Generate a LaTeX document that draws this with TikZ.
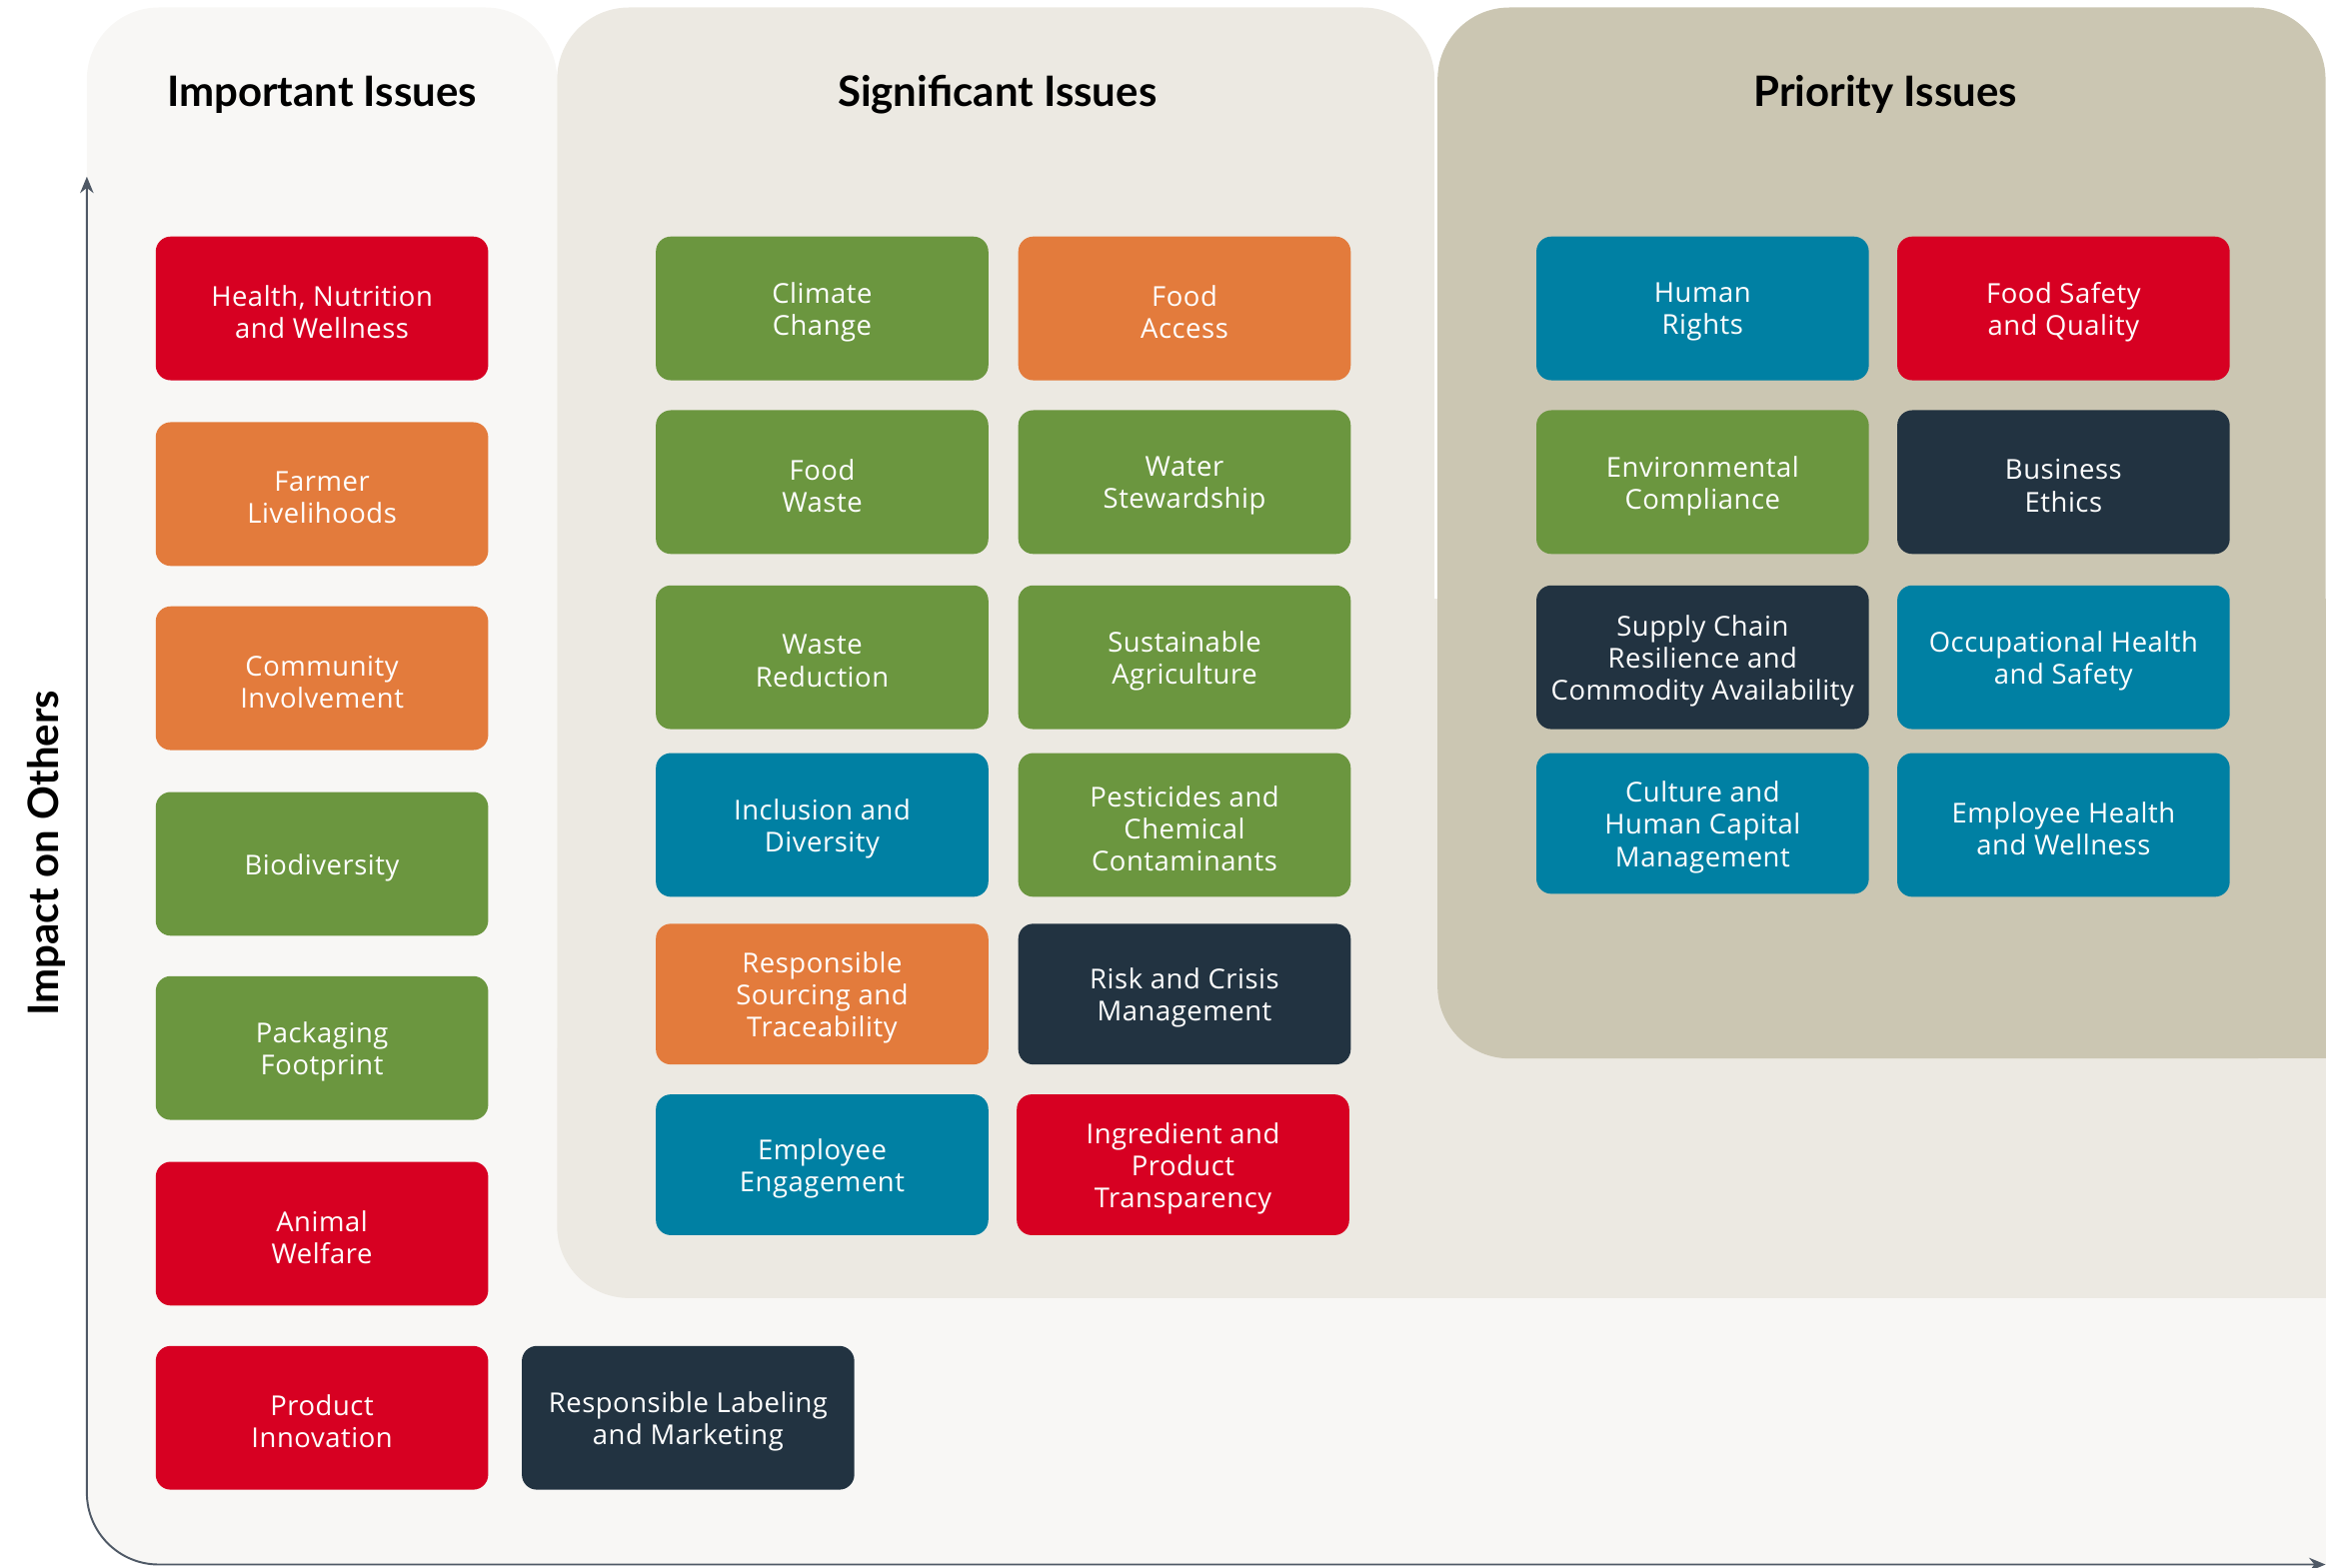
\documentclass[tikz,border=0pt]{standalone}
\usepackage{fontspec}
\setmainfont{Open Sans}[LetterSpace=2.0]
\newfontfamily\titlefont{Lato}
\usetikzlibrary{arrows.meta}
\definecolor{cred}{HTML}{D70022}
\definecolor{corange}{HTML}{E37B3C}
\definecolor{cgreen}{HTML}{6B963F}
\definecolor{cblue}{HTML}{0080A3}
\definecolor{cdark}{HTML}{223341}
\definecolor{plight}{HTML}{F8F7F5}
\definecolor{psig}{HTML}{ECE9E2}
\definecolor{ppri}{HTML}{CBC6B2}
\definecolor{caxis}{HTML}{4F5966}
% #1 name, #2 colour, #3 position, #4 height, #5 text
\newcommand\issuebox[5]{%
  \node[issue, fill=#2, minimum height=#4] (#1) at (#3) {};
  \node[issuetext] (#1-t) at ([yshift=-2.5pt]#1.center) {#5};}
\begin{document}
\begin{tikzpicture}[x=1pt,y=-1pt,
  issue/.style={rounded corners=10pt, minimum width=222pt, inner sep=0pt},
  issuetext/.style={text=white, align=center, font=\fontsize{18.3}{21.5}\selectfont, inner sep=0pt},
  ttl/.style={font=\titlefont\fontsize{28}{32}\selectfont\bfseries, text=black},
  axisline/.style={draw=caxis, line width=1.3pt, rounded corners=48pt, {Stealth[length=11pt,width=9pt]}-{Stealth[length=11pt,width=9pt]}}]
\useasboundingbox (0,0) rectangle (1568,1047);
% panels
\fill[plight, rounded corners=48pt] (58,5) rectangle (372,1045);
\fill[plight] (300,700) rectangle (1553,1045);
\fill[psig, rounded corners=48pt] (372,5) rectangle (958,867);
\fill[psig] (700,400) rectangle (1553,867);
\fill[ppri, rounded corners=48pt] (960,5) rectangle (1553,707);
\fill[ppri] (1400,400) rectangle (1553,707);
% axes
\coordinate (ytop) at (58,118);
\coordinate (corner) at (58,1045);
\coordinate (xend) at (1553,1045);
\draw[axisline] (ytop) -- (corner) -- (xend);
\node[rotate=90, ttl] (ylab) at (31,570) {Impact on Others};
% titles
\node[ttl] (t1) at (215,63) {Important Issues};
\node[ttl] (t2) at (666,63) {Significant Issues};
\node[ttl] (t3) at (1259,63) {Priority Issues};
% important
\issuebox{hnw}{cred}{215,206}{96pt}{Health, Nutrition\\and Wellness}
\issuebox{fl}{corange}{215,330}{96pt}{Farmer\\Livelihoods}
\issuebox{ci}{corange}{215,453}{96pt}{Community\\Involvement}
\issuebox{bio}{cgreen}{215,577}{96pt}{Biodiversity}
\issuebox{pf}{cgreen}{215,700}{96pt}{Packaging\\Footprint}
\issuebox{aw}{cred}{215,824}{96pt}{Animal\\Welfare}
\issuebox{pi}{cred}{215,947}{96pt}{Product\\Innovation}
\issuebox{rlm}{cdark}{459.5,947}{96pt}{Responsible Labeling\\and Marketing}
% significant
\issuebox{cc}{cgreen}{549,206}{96pt}{Climate\\Change}
\issuebox{fa}{corange}{791,206}{96pt}{Food\\Access}
\issuebox{fw}{cgreen}{549,322}{96pt}{Food\\Waste}
\issuebox{ws}{cgreen}{791,322}{96pt}{Water\\Stewardship}
\issuebox{wr}{cgreen}{549,439}{96pt}{Waste\\Reduction}
\issuebox{sa}{cgreen}{791,439}{96pt}{Sustainable\\Agriculture}
\issuebox{id}{cblue}{549,551}{96pt}{Inclusion and\\Diversity}
\issuebox{pcc}{cgreen}{791,551}{96pt}{Pesticides and\\Chemical\\Contaminants}
\issuebox{rst}{corange}{549,664}{94pt}{Responsible\\Sourcing and\\Traceability}
\issuebox{rcm}{cdark}{791,664}{94pt}{Risk and Crisis\\Management}
\issuebox{ee}{cblue}{549,778}{94pt}{Employee\\Engagement}
\issuebox{ipt}{cred}{790,778}{94pt}{Ingredient and\\Product\\Transparency}
% priority
\issuebox{hr}{cblue}{1137,206}{96pt}{Human\\Rights}
\issuebox{fsq}{cred}{1378,206}{96pt}{Food Safety\\and Quality}
\issuebox{ec}{cgreen}{1137,322}{96pt}{Environmental\\Compliance}
\issuebox{be}{cdark}{1378,322}{96pt}{Business\\Ethics}
\issuebox{scr}{cdark}{1137,439}{96pt}{Supply Chain\\Resilience and\\Commodity Availability}
\issuebox{ohs}{cblue}{1378,439}{96pt}{Occupational Health\\and Safety}
\issuebox{chc}{cblue}{1137,550}{94pt}{Culture and\\Human Capital\\Management}
\issuebox{ehw}{cblue}{1378,551}{96pt}{Employee Health\\and Wellness}
\end{tikzpicture}
\end{document}
